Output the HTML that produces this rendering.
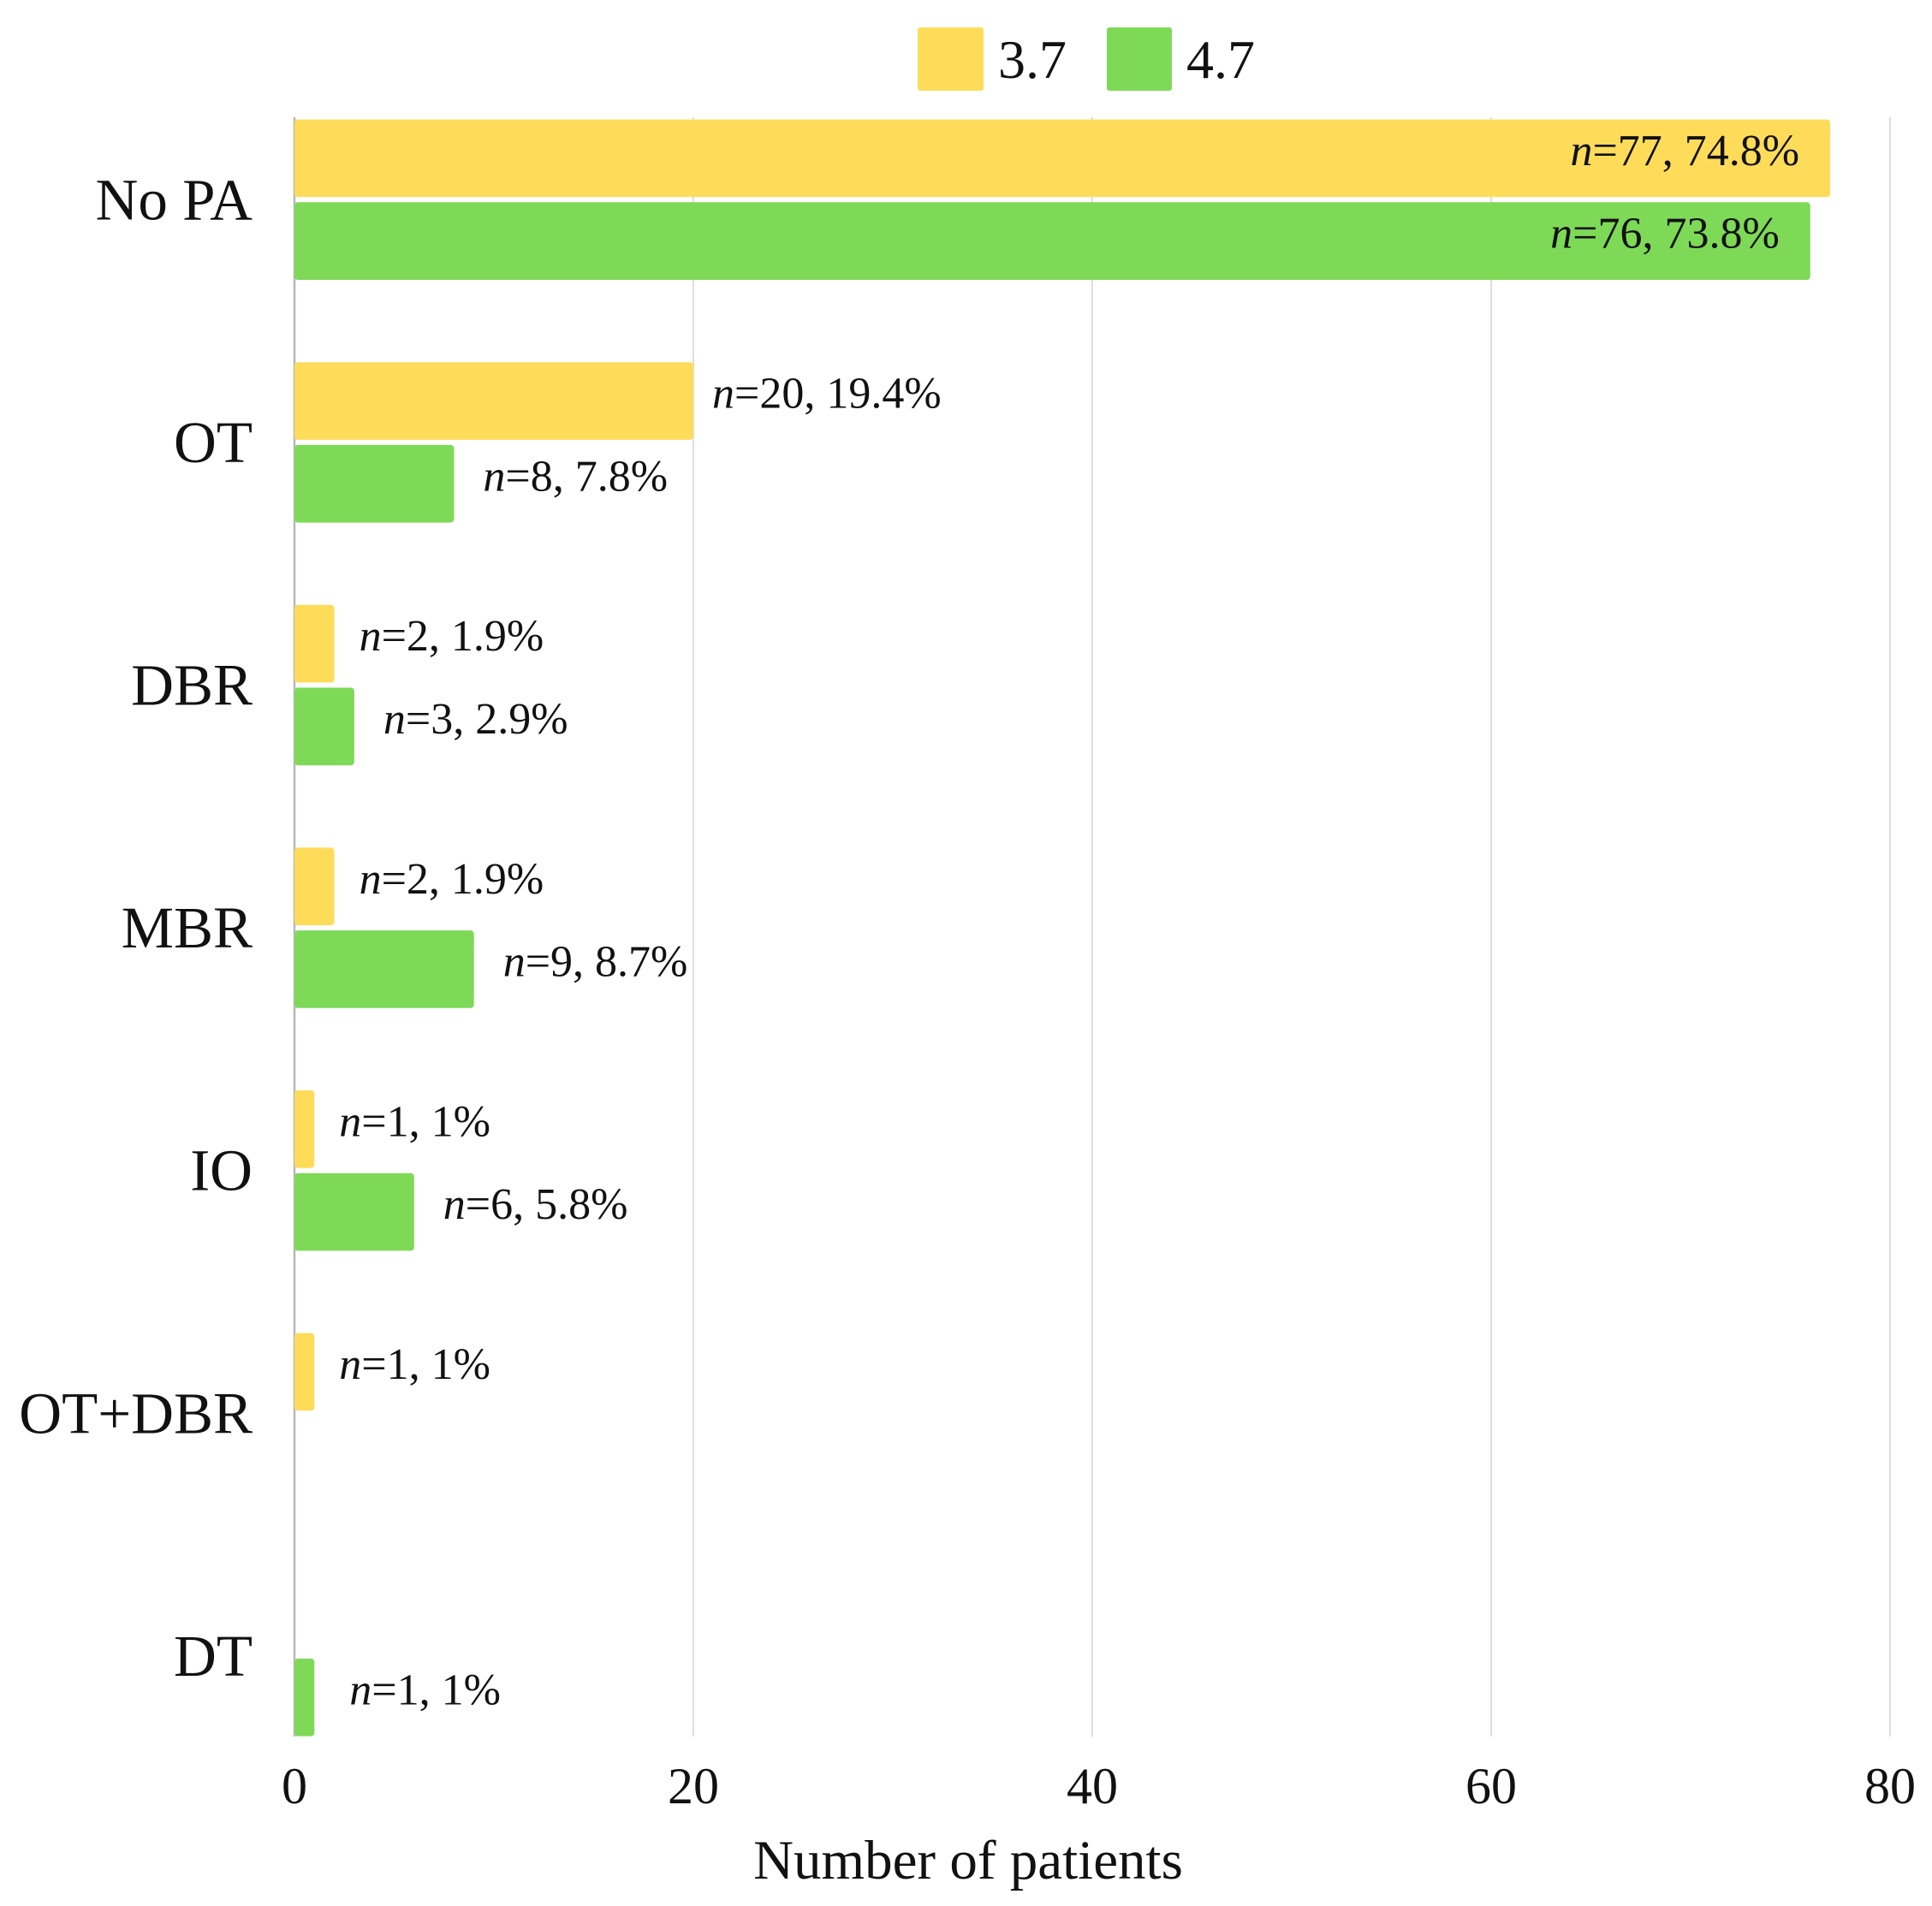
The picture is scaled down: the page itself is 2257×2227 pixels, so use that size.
<!DOCTYPE html>
<html><head><meta charset="utf-8"><style>
html,body{margin:0;padding:0;background:#fff;}
svg{display:block;font-family:"Liberation Serif",serif;}
</style></head><body>
<svg id="chart" width="2257" height="2227" viewBox="0 0 2257 2227" xmlns="http://www.w3.org/2000/svg">
<g id="grid"></g>
<g id="bars"></g>
<g id="labels"></g>
<g id="cats"></g>
<g id="ticks"></g>
<text x="1131" y="2195" font-size="65" text-anchor="middle" fill="#111">Number of patients</text>
<g>
  <rect x="1072" y="32" width="77" height="74" rx="3" fill="#FEDC5A"/>
  <text x="1166" y="91" font-size="64" fill="#111">3.7</text>
  <rect x="1293" y="32" width="76" height="74" rx="3" fill="#7ED957"/>
  <text x="1386" y="91" font-size="64" fill="#111">4.7</text>
</g>
</svg>
<script>
const categories = ["No PA","OT","DBR","MBR","IO","OT+DBR","DT"];
const values37 = [77,20,2,2,1,1,0];
const values47 = [76,8,3,9,6,0,1];
const pct37 = ["74.8%","19.4%","1.9%","1.9%","1%","1%",""];
const pct47 = ["73.8%","7.8%","2.9%","8.7%","5.8%","","1%"];
const xTicks = [0,20,40,60,80];

const NS="http://www.w3.org/2000/svg";
const X0=344, X1=2208, XMAX=80, TOP=137, BOTTOM=2029;
const BAND=283.6, FIRST=139.6, BH=90.7, GAP=6;
function xs(v){return X0+(X1-X0)*v/XMAX;}
function mk(tag,attrs,parent){const e=document.createElementNS(NS,tag);for(const k in attrs)e.setAttribute(k,attrs[k]);parent.appendChild(e);return e;}
const grid=document.getElementById('grid'),bars=document.getElementById('bars'),labels=document.getElementById('labels'),cats=document.getElementById('cats'),ticks=document.getElementById('ticks');

xTicks.forEach(t=>{
  const l=mk('line',{x1:xs(t),x2:xs(t),y1:TOP,y2:BOTTOM,stroke:t===0?'#b8b8b8':'#dedede','stroke-width':t===0?2.5:2},grid);
  
  
  const tx=mk('text',{x:xs(t),y:2107,'font-size':60,'text-anchor':'middle',fill:'#111'},ticks);
  tx.textContent=t;
  
  
});

function label(parent,v,p,x,y,anchor){
  const t=mk('text',{x:x,y:y,'font-size':52,'text-anchor':anchor,'dominant-baseline':'central',fill:'#111'},parent);
  const a=mk('tspan',{'font-style':'italic'},t);a.textContent='n';
  const b=mk('tspan',{},t);b.textContent='='+v+', '+p;
  return t;
}

categories.forEach((c,i)=>{
  const y1=FIRST+BAND*i, y2=y1+BH+GAP;
  const ct=mk('text',{x:295,y:y1+BH+GAP/2,'font-size':69,'text-anchor':'end','dominant-baseline':'central',fill:'#111'},cats);
  ct.textContent=c;
  
  
  [[values37[i],pct37[i],y1,'#FEDC5A','3-7'],[values47[i],pct47[i],y2,'#7ED957','4-7']].forEach(s=>{
    const v=s[0]; if(!v) return;
    const r=mk('rect',{x:X0,y:s[2],width:xs(v)-X0,height:BH,rx:4,fill:s[3]},bars);
    
    
    let lt;
    const ly=s[2]+BH/2-9;
    if(v>50) lt=label(labels,v,s[1],xs(v)-36,ly,'end');
    else lt=label(labels,v,s[1],xs(v)+22+(s[4]==='4-7'&&v<10?12:0)+(v<=2?7:0),ly,'start');
    
    
  });
});
</script>
</body></html>
